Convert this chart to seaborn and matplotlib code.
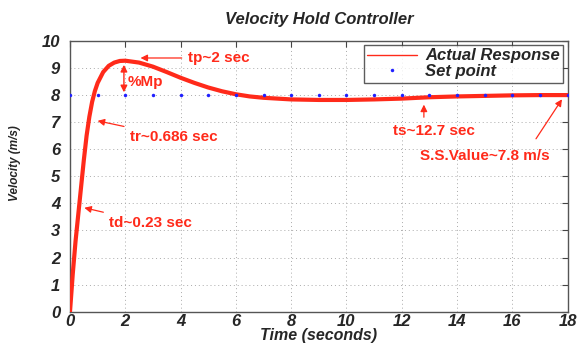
import matplotlib
matplotlib.use("Agg")
import matplotlib.pyplot as plt
import seaborn as sns
import pandas as pd
import numpy as np

time_s = [0, 0.1, 0.2, 0.3, 0.4, 0.5, 0.6, 0.7, 0.8, 0.9, 1.0, 1.2, 1.4, 1.6, 1.8, 2.0,
          2.5, 3.0, 3.5, 4.0, 4.5, 5.0, 5.5, 6.0, 6.5, 7.0, 8.0, 9.0, 10.0, 11.0, 12.0,
          13.0, 14.0, 15.0, 16.0, 17.0, 18.0]
velocity = [0, 1.4, 2.6, 3.6, 4.6, 5.6, 6.5, 7.2, 7.75, 8.15, 8.45, 8.85, 9.08, 9.2, 9.26, 9.27,
            9.2, 9.05, 8.85, 8.64, 8.45, 8.28, 8.14, 8.03, 7.95, 7.9, 7.84, 7.82, 7.82, 7.84, 7.87,
            7.92, 7.95, 7.97, 7.99, 8.0, 8.0]
setpoint_t = list(range(0, 19))
setpoint_v = [8] * 19

xticks = [0, 2, 4, 6, 8, 10, 12, 14, 16, 18]
yticks = [0, 1, 2, 3, 4, 5, 6, 7, 8, 9, 10]

sns.set_style("white")
plt.rcParams['font.family'] = ['Liberation Sans', 'DejaVu Sans']

fig = plt.figure(figsize=(5.8, 3.44), dpi=100)
ax = fig.add_axes([0.1207, 0.094, 0.858, 0.787])

resp = pd.DataFrame({"t": time_s, "v": velocity})
sp = pd.DataFrame({"t": setpoint_t, "v": setpoint_v})

sns.lineplot(data=resp, x="t", y="v", ax=ax, color="#ff2a1a", lw=3.0,
             label="Actual Response", zorder=3)
sns.lineplot(data=sp, x="t", y="v", ax=ax, color="#2020ff", lw=0, marker="o",
             markersize=2.5, markeredgewidth=0, label="Set point", zorder=4)

ax.set_xlim(0, 18)
ax.set_ylim(0, 10)
ax.set_xticks(xticks)
ax.set_yticks(yticks)
ax.set_xticklabels([str(v) for v in xticks], fontsize=12, fontweight="bold", fontstyle="italic")
ax.set_yticklabels([str(v) for v in yticks], fontsize=12, fontweight="bold", fontstyle="italic")
ax.tick_params(direction="in", length=4, width=0.8, color="#444444", top=True, right=True, pad=2)
ax.tick_params(axis="y", pad=7)
ax.grid(True, linestyle=(0, (1, 3)), color="#aaaaaa", lw=0.7)
for s in ax.spines.values():
    s.set_color("#555555")
    s.set_linewidth(1.0)

ax.set_xlabel("Time (seconds)", fontsize=11.5, fontweight="bold", fontstyle="italic", labelpad=-1)
ax.set_ylabel("Velocity (m/s)", fontsize=8.5, fontweight="bold", fontstyle="italic")
ax.yaxis.set_label_coords(-0.098, 0.55)
ax.set_title("Velocity Hold Controller", fontsize=12, fontweight="bold", fontstyle="italic", pad=12)

leg = ax.legend(loc="upper right", frameon=True, fancybox=False, edgecolor="#333333",
                prop={"size": 12, "weight": "bold", "style": "italic"},
                handlelength=3.0, handletextpad=0.5, borderpad=0.2, labelspacing=0.05,
                borderaxespad=0.25)
leg.get_frame().set_linewidth(1.0)
leg.get_lines()[0].set_linewidth(1.0)

red = "#ff2a1a"
tkw = dict(color=red, fontsize=11, fontweight="bold")
akw = dict(arrowstyle="-|>", color=red, lw=0.9, mutation_scale=10)

ax.annotate("tp~2 sec", xy=(2.45, 9.37), xytext=(4.26, 9.37), va="center", ha="left",
            arrowprops=akw, **tkw)
ax.annotate("", xy=(1.95, 9.22), xytext=(1.95, 8.0),
            arrowprops=dict(arrowstyle="<|-|>", color=red, lw=1.0, mutation_scale=10))
ax.text(2.1, 8.5, "%Mp", va="center", ha="left", **tkw)
ax.annotate("tr~0.686 sec", xy=(0.9, 7.07), xytext=(2.17, 6.45), va="center", ha="left",
            arrowprops=akw, **tkw)
ax.annotate("td~0.23 sec", xy=(0.42, 3.86), xytext=(1.4, 3.27), va="center", ha="left",
            arrowprops=akw, **tkw)
ax.annotate("", xy=(12.8, 7.75), xytext=(12.8, 7.08), arrowprops=akw)
ax.text(13.15, 6.67, "ts~12.7 sec", va="center", ha="center", **tkw)
ax.annotate("", xy=(17.85, 7.93), xytext=(16.8, 6.3), arrowprops=akw)
ax.text(15.0, 5.76, "S.S.Value~7.8 m/s", va="center", ha="center", **tkw)

fig.savefig("out.png", dpi=100)
